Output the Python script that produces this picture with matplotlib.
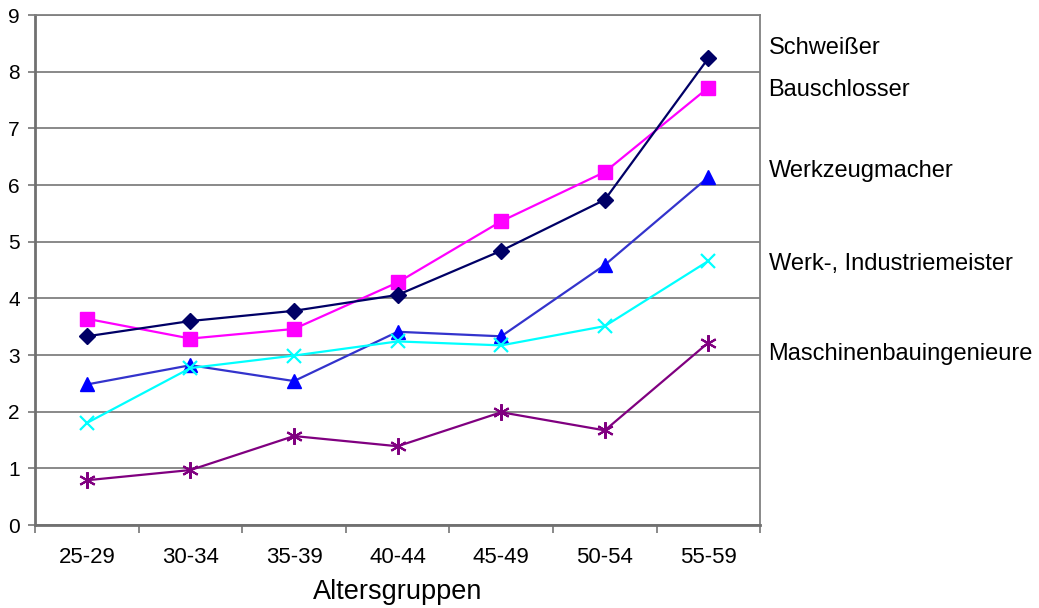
import matplotlib.pyplot as plt
import numpy as np

plt.rcParams['font.family'] = ['Liberation Sans', 'DejaVu Sans']

altersgruppen = ["25-29", "30-34", "35-39", "40-44", "45-49", "50-54", "55-59"]

schweisser = [3.33, 3.60, 3.78, 4.06, 4.84, 5.74, 8.24]
bauschlosser = [3.64, 3.29, 3.46, 4.28, 5.36, 6.23, 7.72]
werkzeugmacher = [2.48, 2.82, 2.54, 3.41, 3.33, 4.59, 6.14]
industriemeister = [1.80, 2.77, 2.99, 3.24, 3.17, 3.51, 4.66]
maschinenbau = [0.79, 0.97, 1.57, 1.39, 1.99, 1.67, 3.22]

namen = ["Schweißer", "Bauschlosser", "Werkzeugmacher",
         "Werk-, Industriemeister", "Maschinenbauingenieure"]
label_y = [8.42, 7.68, 6.25, 4.61, 3.02]

fig = plt.figure(figsize=(10.39, 6.08), dpi=100)
ax = fig.add_axes([0.0337, 0.1365, 0.698, 0.8388])

x = np.arange(len(altersgruppen)) + 0.5

ax.plot(x, schweisser, color='#000066', lw=1.6, marker='D', ms=8,
        mfc='#000066', mec='#000066', zorder=5)
ax.plot(x, bauschlosser, color='#ff00ff', lw=1.6, marker='s', ms=10,
        mfc='#ff00ff', mec='#ff00ff', zorder=4)
ax.plot(x, werkzeugmacher, color='#3333cc', lw=1.6, marker='^', ms=10,
        mfc='#0000ff', mec='#0000ff', zorder=3)
ax.plot(x, industriemeister, color='#00ffff', lw=1.6, marker='x', ms=10,
        mew=1.6, zorder=3)
ax.plot(x, maschinenbau, color='#800080', lw=1.6, marker=(6, 2, 0), ms=12,
        mew=1.5, zorder=3)

ax.set_xlim(0, 7)
ax.set_ylim(0, 9)
ax.set_yticks(range(10))
ax.grid(axis='y', color='#808080', lw=1.3)
ax.set_axisbelow(True)

ax.set_xticks(range(8))
ax.set_xticklabels([])
ax.set_xticks(x, minor=True)
ax.set_xticklabels(altersgruppen, minor=True)
ax.tick_params(axis='x', which='major', length=6, width=1.3, color='#808080', direction='out')
ax.tick_params(axis='x', which='minor', length=0, labelsize=16, pad=16)
ax.tick_params(axis='y', length=5, width=1.3, color='#808080', labelsize=15, pad=6)

for s in ['top', 'right']:
    ax.spines[s].set_color('#808080')
    ax.spines[s].set_linewidth(1.3)
for s in ['left', 'bottom']:
    ax.spines[s].set_color('#707070')
    ax.spines[s].set_linewidth(2.0)

ax.set_xlabel("Altersgruppen", fontsize=19.5, labelpad=8)

for name, yy in zip(namen, label_y):
    ax.text(7.08, yy, name, fontsize=17, va='center', ha='left', clip_on=False)

fig.savefig("out.png", dpi=100)
